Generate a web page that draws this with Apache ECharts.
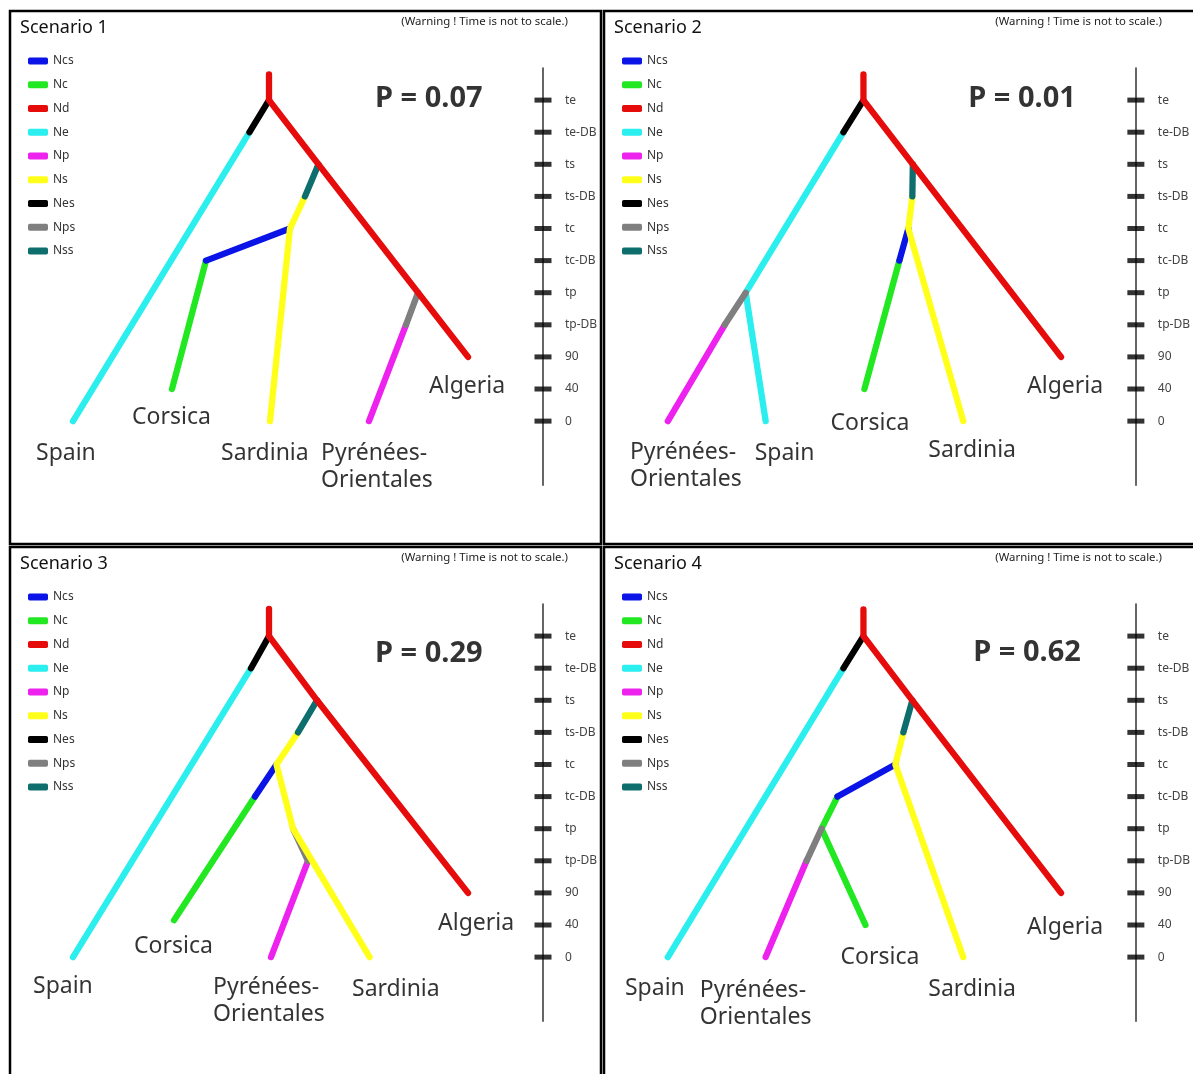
<!DOCTYPE html>
<html><head><meta charset="utf-8">
<script src="https://cdn.jsdelivr.net/npm/echarts@6/dist/echarts.min.js"></script>
<style>html,body{margin:0;padding:0;background:#fff}#c{width:1193px;height:1074px}</style>
</head><body><div id="c"></div>
<script>
// ---------- data ----------
const scenarioNames = ['Scenario 1', 'Scenario 2', 'Scenario 3', 'Scenario 4'];
const pLabels = ['P = 0.07', 'P = 0.01', 'P = 0.29', 'P = 0.62'];
const warningText = '(Warning ! Time is not to scale.)';
const popKeys = ['Ncs', 'Nc', 'Nd', 'Ne', 'Np', 'Ns', 'Nes', 'Nps', 'Nss'];
const popColors = ['#0a14e6', '#22e822', '#e60c0c', '#2beeee', '#ee22ee', '#ffff1a', '#000000', '#7f7f7f', '#0e6e6e'];
const timeValues = [0, 1, 2, 3, 4, 5, 6, 7, 8, 9, 10];
const timeLabels = ['0', '40', '90', 'tp-DB', 'tp', 'tc-DB', 'tc', 'ts-DB', 'ts', 'te-DB', 'te'];

// branch paths: [population, [[x, time], ...]]
const branches1 = [
  ['Nd', [[259, 10.8], [259, 10]]],
  ['Nes', [[259, 10], [239.5, 9]]],
  ['Ne', [[239.5, 9], [63, 0]]],
  ['Nd', [[259, 10], [308.5, 8], [458, 2]]],
  ['Nss', [[308.5, 8], [295, 7]]],
  ['Ns', [[295, 7], [280, 6], [260, 0]]],
  ['Ncs', [[280, 6], [196, 5]]],
  ['Nc', [[196, 5], [162, 1]]],
  ['Nps', [[408, 4], [396, 3]]],
  ['Np', [[396, 3], [359, 0]]]
];
const branches2 = [
  ['Nd', [[260, 10.8], [260, 10]]],
  ['Nes', [[260, 10], [240, 9]]],
  ['Ne', [[240, 9], [142, 4], [162, 0]]],
  ['Nps', [[142, 4], [121, 3]]],
  ['Np', [[121, 3], [64, 0]]],
  ['Nd', [[260, 10], [309.5, 8], [458, 2]]],
  ['Nss', [[309.5, 8], [309, 7]]],
  ['Ns', [[309, 7], [305, 6], [360, 0]]],
  ['Ncs', [[305, 6], [296, 5]]],
  ['Nc', [[296, 5], [261, 1]]]
];
const branches3 = [
  ['Nd', [[259, 10.85], [259, 10]]],
  ['Nes', [[259, 10], [241, 9]]],
  ['Ne', [[241, 9], [63, 0]]],
  ['Nd', [[259, 10], [307, 8], [458, 2]]],
  ['Nss', [[307, 8], [288, 7]]],
  ['Nps', [[283, 4], [298, 3]]],
  ['Ns', [[288, 7], [266.5, 6], [283, 4], [359.6, 0]]],
  ['Ncs', [[266.5, 6], [245, 5]]],
  ['Nc', [[245, 5], [164, 1.15]]],
  ['Np', [[298, 3], [261, 0]]]
];
const branches4 = [
  ['Nd', [[260, 10.83], [260, 10]]],
  ['Nes', [[260, 10], [240, 9]]],
  ['Ne', [[240, 9], [64, 0]]],
  ['Nd', [[260, 10], [309, 8], [458, 2]]],
  ['Nss', [[309, 8], [300, 7]]],
  ['Ns', [[300, 7], [292, 6], [360, 0]]],
  ['Ncs', [[292, 6], [234, 5]]],
  ['Nc', [[234, 5], [218, 4], [262, 1]]],
  ['Nps', [[218, 4], [203, 3]]],
  ['Np', [[203, 3], [162, 0]]]
];

// population names at the branch tips: [x, time, text]
const tips1 = [[26, -1.0, 'Spain'], [122, 0.12, 'Corsica'], [211, -1.0, 'Sardinia'], [311, -1.42, 'Pyrénées-\nOrientales'], [419, 1.09, 'Algeria']];
const tips2 = [[26, -1.39, 'Pyrénées-\nOrientales'], [151, -1.0, 'Spain'], [227, -0.06, 'Corsica'], [325, -0.93, 'Sardinia'], [424, 1.09, 'Algeria']];
const tips3 = [[23, -0.9, 'Spain'], [124, 0.34, 'Corsica'], [203, -1.36, 'Pyrénées-\nOrientales'], [342, -1.0, 'Sardinia'], [428, 1.06, 'Algeria']];
const tips4 = [[21, -0.97, 'Spain'], [96, -1.45, 'Pyrénées-\nOrientales'], [237, 0, 'Corsica'], [325, -1.0, 'Sardinia'], [424, 0.93, 'Algeria']];
const pAnchors = [[365, 10.03], [365, 10.03], [365, 9.44], [370, 9.47]];

// ---------- layout ----------
const allBranches = [branches1, branches2, branches3, branches4];
const allTips = [tips1, tips2, tips3, tips4];
const panelLeft = [10, 604, 10, 604];
const panelTop = [11, 11, 547, 547];
const drawOrder = ['Ne', 'Nes', 'Nc', 'Ncs', 'Np', 'Nps', 'Ns', 'Nss', 'Nd'];
const FONT = 'Noto Sans';
const GRID_W = 533;
const GRID_H = 417.3;

const grid = [], xAxis = [], yAxis = [], series = [], title = [], legend = [], graphic = [];
for (let i = 0; i < 4; i++) {
  grid.push({ left: panelLeft[i], top: panelTop[i] + 57, width: GRID_W, height: GRID_H });
  xAxis.push({ gridIndex: i, type: 'value', min: 0, max: GRID_W, show: false });
  yAxis.push({
    gridIndex: i, type: 'value', min: -2, max: 11, position: 'right',
    axisLine: { show: true, onZero: false, lineStyle: { color: '#333', width: 1.5 } },
    splitLine: { show: false },
    axisTick: { show: false },
    axisLabel: { show: true, customValues: timeValues, margin: 22, color: '#444', fontSize: 12, fontFamily: FONT,
      formatter: v => timeLabels[timeValues.indexOf(Math.round(v))] }
  });

  // time-axis tick marks, centred on the axis line
  series.push({
    type: 'scatter', xAxisIndex: i, yAxisIndex: i, silent: true, clip: false, z: 5,
    symbol: 'rect', symbolSize: [17, 5], itemStyle: { color: '#000' },
    data: timeValues.map(v => [GRID_W, v])
  });

  drawOrder.forEach(key => {
    const k = popKeys.indexOf(key);
    const data = [];
    allBranches[i].filter(b => b[0] === key).forEach(b => {
      if (data.length) data.push(['-', '-']);
      b[1].forEach(p => data.push(p));
    });
    series.push({
      type: 'line', name: key, xAxisIndex: i, yAxisIndex: i, data: data,
      color: popColors[k], showSymbol: false, symbol: 'none', connectNulls: false,
      lineStyle: { color: popColors[k], width: 6.3, cap: 'round', join: 'round' },
      silent: true, z: 3
    });
  });

  series.push({
    type: 'scatter', xAxisIndex: i, yAxisIndex: i, symbolSize: 0, silent: true, z: 4,
    data: allTips[i].map(t => ({ value: [t[0], t[1]], name: t[2] })),
    label: { show: true, position: 'right', distance: 0, formatter: p => p.name,
      fontSize: 23, fontFamily: FONT, color: '#000', lineHeight: 27 }
  });
  series.push({
    type: 'scatter', xAxisIndex: i, yAxisIndex: i, symbolSize: 0, silent: true, z: 4,
    data: [{ value: pAnchors[i], name: pLabels[i] }],
    label: { show: true, position: 'right', distance: 0, formatter: p => p.name,
      fontSize: 29, fontWeight: 'bold', fontFamily: FONT, color: '#000' }
  });

  title.push({ text: scenarioNames[i], left: panelLeft[i] + 10, top: panelTop[i] + 8, padding: 0,
    textStyle: { fontSize: 18, fontWeight: 'normal', color: '#111', fontFamily: FONT } });
  title.push({ text: warningText, right: 1193 - (panelLeft[i] + 558), top: panelTop[i] + 5, padding: 0,
    textStyle: { fontSize: 11.4, fontWeight: 'normal', color: '#222', fontFamily: FONT } });

  legend.push({ data: popKeys, orient: 'vertical', left: panelLeft[i] + 18, top: panelTop[i] + 44, padding: 0,
    icon: 'roundRect', itemWidth: 20, itemHeight: 7, itemGap: 11.75, selectedMode: false,
    textStyle: { fontSize: 12, color: '#333', fontFamily: FONT } });

  graphic.push({ type: 'rect', silent: true, z: 100,
    shape: { x: panelLeft[i], y: panelTop[i], width: i % 2 === 0 ? 591 : 600, height: i < 2 ? 533 : 560 },
    style: { fill: 'none', stroke: '#000', lineWidth: 2.5 } });
}

const chart = echarts.init(document.getElementById('c'), null, { renderer: 'canvas' });
chart.setOption({ animation: false, backgroundColor: '#fff', grid, xAxis, yAxis, series, title, legend, graphic });
</script>
</body></html>
